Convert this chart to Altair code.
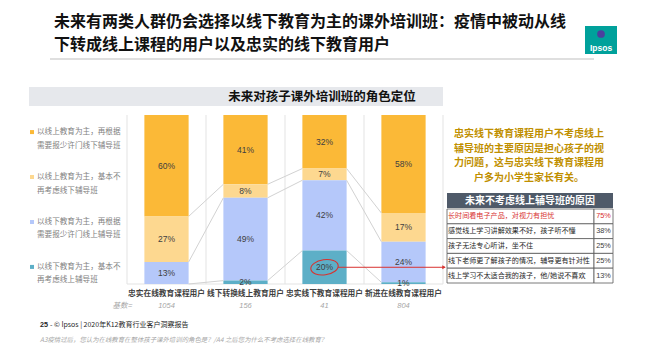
import altair as alt
import pandas as pd

# ---------------- data ----------------
categories = ["忠实在线教育课程用户", "线下转换线上教育用户", "忠实线下教育课程用户", "新进在线教育课程用户"]
bases = [1054, 156, 41, 804]
series = [
    "以线上教育为主，再根据需要报少许门线下辅导班",
    "以线上教育为主，基本不再考虑线下辅导班",
    "以线下教育为主，再根据需要报少许门线上辅导班",
    "以线下教育为主，基本不再考虑线上辅导班",
]
online_plus = [60, 41, 32, 58]
online_only = [27, 8, 7, 17]
offline_plus = [13, 49, 42, 24]
offline_only = [0, 2, 20, 1]
series_values = [online_plus, online_only, offline_plus, offline_only]
colors = ["#FBB937", "#FDD890", "#B5C8FA", "#5DAFC7"]

reasons = [
    "长时间看电子产品，对视力有担忧",
    "感觉线上学习讲解效果不好，孩子听不懂",
    "孩子无法专心听讲，坐不住",
    "线下老师更了解孩子的情况，辅导更有针对性",
    "线上学习不太适合我的孩子，他/她说不喜欢",
]
reason_pcts = [75, 38, 25, 25, 13]

title_lines = ["未来有两类人群仍会选择以线下教育为主的课外培训班：疫情中被动从线",
               "下转成线上课程的用户以及忠实的线下教育用户"]
panel_title = "未来对孩子课外培训班的角色定位"
note_lines = ["忠实线下教育课程用户不考虑线上", "辅导班的主要原因是担心孩子的视",
              "力问题，这与忠实线下教育课程用", "户多为小学生家长有关。"]
table_title = "未来不考虑线上辅导班的原因"
base_label = "基数="
footer_page = "25"
footer_text = "-  © Ipsos | 2020年K12教育行业客户洞察报告"
question = "A3疫情过后，您认为在线教育在整体孩子课外培训的角色是？/A4  之后您为什么不考虑选择在线教育？"
highlight_cat = 2
highlight_series = series[3]

# ---------------- layout constants ----------------
W, H = 316, 169
CJK = "Noto Sans CJK SC"
NUM = "Liberation Sans, Noto Sans CJK SC"
RED = "#D8322F"

rows = []
for ci, cat in enumerate(categories):
    for sj, s in enumerate(series):
        rows.append({"ci": ci, "cat": cat, "series": s, "order": sj, "value": series_values[sj][ci]})
df = pd.DataFrame(rows)

xscale = alt.Scale(domain=[0, len(categories)], nice=False, zero=True)
yscale = alt.Scale(domain=[0, 1], nice=False)
cscale = alt.Scale(domain=series, range=colors)

base = alt.Chart(df).transform_stack(
    stack="value", groupby=["ci"], as_=["y0", "y1"], offset="normalize",
    sort=[alt.SortField("order", order="descending")]
).transform_calculate(
    xs="datum.ci + 0.22", xe="datum.ci + 0.78", xc="datum.ci + 0.5",
    ym="(datum.y0 + datum.y1) / 2", lbl="datum.value + '%'"
)

dummy = pd.DataFrame({"d": [0]})


def txt(text, x, y, size, color="#000000", weight="normal", align="left", style="normal",
        font=CJK, lh=None, baseline="middle"):
    kw = dict(text=text, fontSize=size, color=color, fontWeight=weight, align=align,
              baseline=baseline, font=font, fontStyle=style)
    if lh is not None:
        kw["lineHeight"] = lh
    return alt.Chart(dummy).mark_text(**kw).encode(x=alt.value(x), y=alt.value(y))


def box(x, x2, y, y2, fill, stroke=None):
    kw = dict(color=fill)
    if stroke:
        kw.update(stroke=stroke, strokeWidth=1)
    return alt.Chart(dummy).mark_rect(**kw).encode(
        x=alt.value(x), x2=alt.value(x2), y=alt.value(y), y2=alt.value(y2))


# ---------------- plot area ----------------
grid = alt.Chart(pd.DataFrame({"g": list(range(len(categories) + 1))})).mark_rule(
    color="#E3E3E3", strokeWidth=1).encode(x=alt.X("g:Q", scale=xscale, axis=None))
baseline = alt.Chart(dummy).mark_rule(color="#E3E3E3").encode(
    x=alt.value(0), x2=alt.value(W), y=alt.value(H))

bars = base.mark_rect().encode(
    x=alt.X("xs:Q", scale=xscale, axis=None), x2="xe:Q",
    y=alt.Y("y0:Q", scale=yscale, axis=None), y2="y1:Q",
    color=alt.Color("series:N", scale=cscale, legend=None),
)

connectors = base.transform_filter("datum.order >= 1").transform_window(
    ny="lead(y1)", groupby=["series"], sort=[alt.SortField("ci")]
).transform_filter("isValid(datum.ny)").transform_calculate(
    rx1="datum.ci + 0.78", rx2="datum.ci + 1.22"
).mark_rule(color="#D2D2D2", strokeWidth=1).encode(
    x=alt.X("rx1:Q", scale=xscale, axis=None), x2="rx2:Q",
    y=alt.Y("y1:Q", scale=yscale, axis=None), y2="ny:Q",
)

labels = base.transform_filter("datum.value > 0").mark_text(
    fontSize=8.5, color="#404040", font=NUM).encode(
    x=alt.X("xc:Q", scale=xscale, axis=None),
    y=alt.Y("ym:Q", scale=yscale, axis=None),
    text="lbl:N",
)

hl = base.transform_filter(
    f"datum.ci == {highlight_cat} && datum.series == '{highlight_series}'")
ellipse = hl.mark_point(
    shape="M -1 0 A 1 0.55 0 1 1 1 0 A 1 0.55 0 1 1 -1 0 Z",
    size=760, filled=False, stroke=RED, strokeWidth=1.1, angle=352, opacity=1,
).encode(x=alt.X("xc:Q", scale=xscale, axis=None), y=alt.Y("ym:Q", scale=yscale, axis=None))
arrow = hl.transform_calculate(ax="datum.ci + 0.5 + 0.17").mark_rule(
    color=RED, strokeWidth=1).encode(
    x=alt.X("ax:Q", scale=xscale, axis=None), x2=alt.value(318),
    y=alt.Y("ym:Q", scale=yscale, axis=None))
arrow_head = hl.mark_point(shape="triangle-right", filled=True, color=RED, size=16, opacity=1).encode(
    x=alt.value(317), y=alt.Y("ym:Q", scale=yscale, axis=None))

cat_df = pd.DataFrame({"ci": list(range(len(categories))), "cat": categories, "n": bases})
cat_base = alt.Chart(cat_df).transform_calculate(xc="datum.ci + 0.5")
cat_labels = cat_base.mark_text(fontSize=7.7, fontWeight="bold", color="#404040", font=CJK).encode(
    x=alt.X("xc:Q", scale=xscale, axis=None), y=alt.value(179), text="cat:N")
base_nums = cat_base.mark_text(fontSize=7.5, fontStyle="italic", color="#A6A6A6", font=NUM).encode(
    x=alt.X("xc:Q", scale=xscale, axis=None), y=alt.value(191), text="n:N")
base_lbl = txt(base_label, -5, 191, 7.5, color="#A6A6A6", style="italic", align="center")

# ---------------- legend (left) ----------------
leg_df = pd.DataFrame({"series": series})
leg_y = alt.Y("series:N", scale=alt.Scale(type="point", domain=series, padding=0.38), axis=None)
leg_text = alt.Chart(leg_df).transform_calculate(
    lines="[substring(datum.series, 0, 11), substring(datum.series, 11)]"
).mark_text(align="left", baseline="middle", lineHeight=13.5, fontSize=7.6,
            color="#7F7F7F", font=CJK).encode(x=alt.value(-90), y=leg_y, text="lines:N")
leg_sym = alt.Chart(leg_df).mark_square(size=16, opacity=1).encode(
    x=alt.value(-95), y=leg_y, color=alt.Color("series:N", scale=cscale, legend=None))

# ---------------- header / title ----------------
title = txt(title_lines, -73, -93.5, 16, weight="bold", color="#111111", lh=23.5)
title_rule = alt.Chart(dummy).mark_rule(color="#BFBFBF", strokeWidth=1).encode(
    x=alt.value(-77), x2=alt.value(467), y=alt.value(-56))
logo = box(458, 490, -89, -61, "#00A19B")
logo_head = alt.Chart(dummy).mark_point(shape="circle", filled=True, color="#4B3F9E", size=60, opacity=1).encode(
    x=alt.value(474), y=alt.value(-81))
logo_txt = txt("Ipsos", 474, -67, 8.5, color="#FFFFFF", weight="bold", align="center", font=NUM)
band = box(-98, W, -28, -9, "#E6E8EC")
band_txt = txt(panel_title, 195, -18, 12.5, weight="bold", color="#111111", align="center")

# ---------------- right panel ----------------
note = txt(note_lines, 402, 19, 10, color="#BF8F00", weight="bold", align="center", lh=14.7)
tab_head = box(320, 486, 78, 93, "#4F5A69")
tab_head_txt = txt(table_title, 403, 85.5, 10, color="#FFFFFF", weight="bold", align="center")
tab_df = pd.DataFrame({"reason": reasons, "pct": reason_pcts})
tab_y = alt.Y("reason:N", scale=alt.Scale(domain=reasons, range=[94, 168], paddingInner=0, paddingOuter=0), axis=None)
tab_base = alt.Chart(tab_df).transform_calculate(plbl="datum.pct + '%'")
cell1 = tab_base.mark_rect(color="#FFFFFF", stroke="#595959", strokeWidth=0.8).encode(
    x=alt.value(320), x2=alt.value(467), y=tab_y)
cell2 = tab_base.mark_rect(color="#FFFFFF", stroke="#595959", strokeWidth=0.8).encode(
    x=alt.value(467), x2=alt.value(486), y=tab_y)
is_first = f"datum.reason == '{reasons[0]}'"
cell_txt = tab_base.mark_text(align="left", fontSize=7.1, font=CJK).encode(
    x=alt.value(321), y=tab_y, text="reason:N",
    color=alt.condition(is_first, alt.value(RED), alt.value("#262626")))
pct_txt = tab_base.mark_text(align="center", fontSize=7.3, font=NUM).encode(
    x=alt.value(476.5), y=tab_y, text="plbl:N",
    color=alt.condition(is_first, alt.value(RED), alt.value("#404040")))

# ---------------- footer ----------------
foot1 = txt(footer_page, -87, 210, 7.2, weight="bold", color="#262626", font=NUM)
foot2 = txt(footer_text, -77, 210, 7, color="#262626")
quest = txt(question, -87, 225, 6.4, color="#A6A6A6", style="italic")

chart = alt.layer(
    band, band_txt, grid, baseline, bars, connectors, labels, ellipse, arrow, arrow_head,
    cat_labels, base_nums, base_lbl, leg_sym, leg_text,
    title, title_rule, logo, logo_head, logo_txt,
    note, tab_head, tab_head_txt, cell1, cell2, cell_txt, pct_txt,
    foot1, foot2, quest,
).resolve_scale(y="independent").properties(
    width=W, height=H,
    autosize=alt.AutoSizeParams(type="none"),
    padding={"left": 119, "top": 107, "right": 190, "bottom": 68},
    background="#FFFFFF",
).configure_view(strokeWidth=0)

chart.save("out.html", embed_options={"renderer": "svg", "actions": False})
